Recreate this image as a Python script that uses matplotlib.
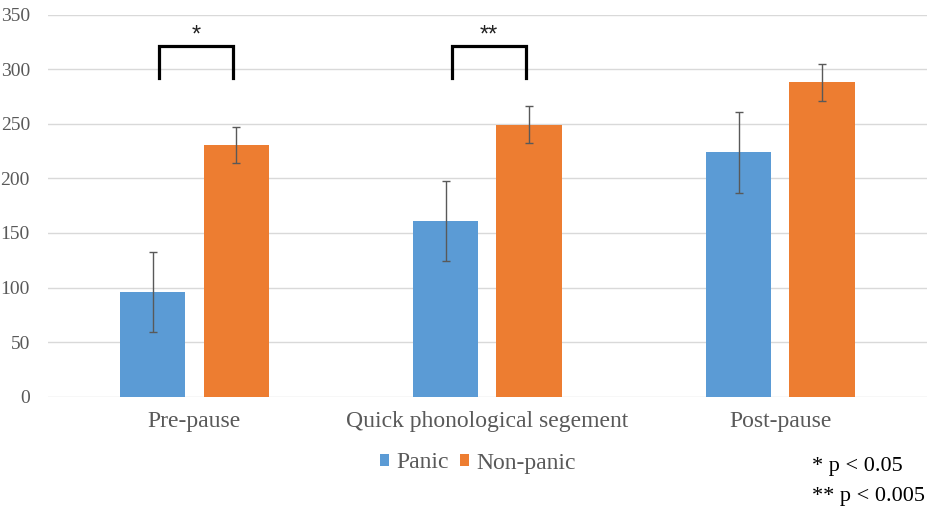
import numpy as np
import matplotlib.pyplot as plt

# data
categories = ["Pre-pause", "Quick phonological segement", "Post-pause"]
panic = [96, 161, 224]
panic_err = [37, 37, 37]
nonpanic = [231, 249, 288]
nonpanic_err = [16.5, 17, 17]
sig_marks = ["*", "**", None]

blue = "#5B9BD5"
orange = "#ED7D31"
grey = "#595959"

fig = plt.figure(figsize=(9.35, 5.17), dpi=100)
ax = fig.add_axes([0.0513, 0.2327, 0.94, 0.739])

x = np.arange(len(categories))
w = 0.222
off = 0.142
ax.bar(x - off, panic, w, color=blue, label="Panic", zorder=3)
ax.bar(x + off, nonpanic, w, color=orange, label="Non-panic", zorder=3)
ax.errorbar(x - off, panic, yerr=panic_err, fmt="none", ecolor=grey,
            elinewidth=1, capsize=3, capthick=1, zorder=4)
ax.errorbar(x + off, nonpanic, yerr=nonpanic_err, fmt="none", ecolor=grey,
            elinewidth=1, capsize=3, capthick=1, zorder=4)

# significance brackets
for i, mark in enumerate(sig_marks):
    if mark is None:
        continue
    x0, x1 = i - off + 0.02, i + off - 0.01
    ax.plot([x0, x0, x1, x1], [292, 321.5, 321.5, 292], color="black",
            lw=2.3, solid_joinstyle="miter", zorder=5)
    ax.text((x0 + x1) / 2, 320.5, mark, ha="center", va="bottom",
            fontsize=17, fontfamily="Liberation Sans", color="#222222")

ax.set_xlim(-0.5, 2.5)
ax.set_ylim(0, 350)
ax.set_yticks(range(0, 351, 50))
ax.set_xticks(x)
ax.set_xticklabels(categories)
ax.yaxis.grid(True, color="#d9d9d9", lw=1, zorder=0)
ax.set_axisbelow(True)
for s in ax.spines.values():
    s.set_visible(False)
ax.tick_params(axis="both", length=0, colors=grey)
ax.tick_params(axis="y", labelsize=14, pad=13)
ax.tick_params(axis="x", labelsize=17, pad=10)
for lab in ax.get_xticklabels() + ax.get_yticklabels():
    lab.set_fontfamily("Liberation Serif")

leg = fig.legend(loc="center", bbox_to_anchor=(478 / 935, 1 - 463 / 517),
                 ncol=2, frameon=False, handlelength=0.38, handleheight=0.38,
                 handletextpad=0.3, columnspacing=0.5,
                 prop={"family": "Liberation Serif", "size": 17})
for t in leg.get_texts():
    t.set_color(grey)

fig.text(812 / 935, 1 - 467 / 517, "* p < 0.05", ha="left", va="center",
         fontsize=16, fontfamily="Liberation Serif", color="black")
fig.text(812 / 935, 1 - 497 / 517, "** p < 0.005", ha="left", va="center",
         fontsize=16, fontfamily="Liberation Serif", color="black")

fig.savefig("out.png", dpi=100)
